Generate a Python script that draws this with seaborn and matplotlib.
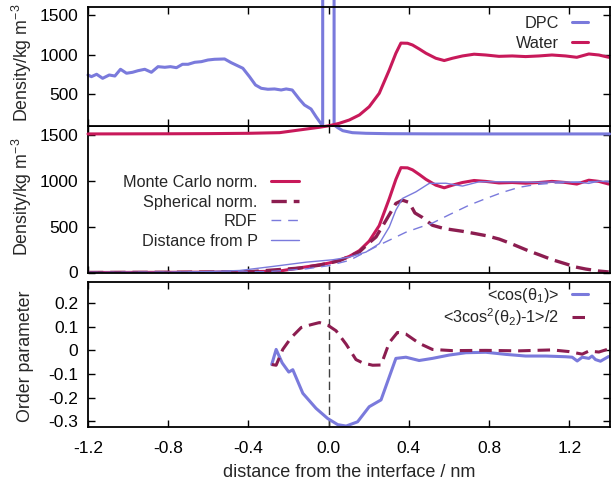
import matplotlib
matplotlib.use("Agg")
import matplotlib.pyplot as plt
import seaborn as sns
import pandas as pd

# ---------------- data ----------------
dpc_x = [-1.200, -1.183, -1.157, -1.127, -1.094, -1.066, -1.038, -1.008, -0.978, -0.951,
         -0.917, -0.884, -0.851, -0.817, -0.789, -0.759, -0.729, -0.701, -0.668, -0.635,
         -0.602, -0.569, -0.519, -0.486, -0.428, -0.395, -0.365, -0.336, -0.303, -0.270,
         -0.237, -0.212, -0.182, -0.146, -0.121, -0.088, -0.063, -0.030, -0.027, 0.024,
         0.027, 0.045, 0.070, 0.118, 0.186, 0.300, 0.500, 0.800, 1.100, 1.400]
dpc_y = [743, 722, 752, 701, 743, 730, 815, 765, 777, 797,
         815, 777, 848, 840, 848, 835, 878, 878, 903, 911,
         932, 941, 945, 898, 828, 722, 617, 575, 563, 567,
         554, 567, 554, 437, 365, 314, 217, 100, 30000, 30000,
         113, 79, 41, 16, 8, 3, 1, 0, 0, 0]

water_x = [-1.2, -1.0, -0.8, -0.6, -0.4, -0.245, -0.146, -0.046, 0.003, 0.053, 0.103, 0.153,
           0.202, 0.252, 0.302, 0.335, 0.360, 0.393, 0.418, 0.452, 0.485, 0.534, 0.576, 0.617,
           0.667, 0.725, 0.783, 0.849, 0.915, 0.982, 1.048, 1.113, 1.181, 1.237, 1.297, 1.347, 1.396]
water_y = [0, 1, 2, 4, 8, 16, 50, 84, 104, 134, 176, 239,
           343, 512, 806, 1017, 1145, 1143, 1121, 1070, 1017, 954, 925, 954,
           983, 1005, 995, 978, 983, 975, 983, 995, 983, 966, 1008, 995, 966]

# Monte Carlo normalisation = same profile as water density
mc_x = water_x
mc_y = water_y

sph_x = [-1.2, -0.8, -0.4, -0.146, -0.046, 0.053, 0.153, 0.202, 0.236, 0.286, 0.335, 0.368,
         0.401, 0.430, 0.468, 0.517, 0.575, 0.667, 0.730, 0.790, 0.850, 0.910, 0.998, 1.048,
         1.114, 1.181, 1.231, 1.281, 1.347, 1.396]
sph_y = [0, 2, 8, 48, 80, 128, 225, 325, 388, 571, 754, 790,
         765, 650, 600, 516, 480, 450, 425, 400, 365, 315, 235, 195,
         140, 95, 60, 38, 16, 6]

rdf_x = [-1.2, -0.6, -0.3, -0.112, 0.0, 0.103, 0.252, 0.385, 0.45, 0.517, 0.6, 0.7,
         0.775, 0.866, 0.949, 1.03, 1.114, 1.2, 1.281, 1.396]
rdf_y = [0, 2, 10, 40, 75, 132, 300, 440, 490, 540, 630, 735,
         800, 875, 930, 960, 975, 985, 991, 997]

dist_x = [-1.2, -0.8, -0.6, -0.444, -0.279, -0.112, 0.020, 0.103, 0.186, 0.252, 0.302, 0.335,
          0.368, 0.435, 0.501, 0.584, 0.667, 0.750, 0.85, 0.95, 1.05, 1.15, 1.25, 1.297, 1.347, 1.396]
dist_y = [0, 3, 10, 22, 66, 113, 139, 168, 223, 315, 497, 681,
          809, 881, 973, 975, 944, 991, 991, 990, 985, 990, 985, 973, 999, 990]

cos1_x = [-0.284, -0.262, -0.232, -0.199, -0.179, -0.129, -0.063, -0.005, 0.045, 0.087,
          0.144, 0.202, 0.261, 0.335, 0.385, 0.451, 0.517, 0.600, 0.684, 0.783,
          0.883, 0.982, 1.082, 1.181, 1.214, 1.239, 1.264, 1.297, 1.313, 1.330, 1.355, 1.396]
cos1_y = [-0.060, 0.004, -0.053, -0.092, -0.082, -0.182, -0.246, -0.289, -0.315, -0.321,
          -0.303, -0.239, -0.210, -0.034, -0.029, -0.043, -0.034, -0.020, -0.010, -0.008,
          -0.017, -0.024, -0.024, -0.027, -0.029, -0.045, -0.029, -0.034, -0.024, -0.039, -0.046, -0.026]

p2_x = [-0.284, -0.262, -0.229, -0.187, -0.137, -0.088, -0.046, -0.005, 0.037, 0.087,
        0.136, 0.169, 0.219, 0.261, 0.302, 0.343, 0.385, 0.451, 0.517, 0.615,
        0.783, 0.949, 1.114, 1.197, 1.264, 1.297, 1.347, 1.396]
p2_y = [-0.060, -0.063, 0.004, 0.054, 0.097, 0.109, 0.118, 0.107, 0.083, 0.026,
        -0.039, -0.053, -0.063, -0.062, 0.033, 0.076, 0.069, 0.030, 0.004, -0.001,
        0.000, -0.002, 0.002, -0.005, -0.016, -0.003, -0.007, 0.006]

x_ticks = [-1.2, -0.8, -0.4, 0.0, 0.4, 0.8, 1.2]
x_tick_labels = ["-1.2", "-0.8", "-0.4", "0.0", "0.4", "0.8", "1.2"]
dens_top_ticks = [500, 1000, 1500]
dens_mid_ticks = [0, 500, 1000, 1500]
op_ticks = [-0.3, -0.2, -0.1, 0.0, 0.1, 0.2]
op_tick_labels = ["-0.3", "-0.2", "-0.1", "0", "0.1", "0.2"]

# ---------------- style ----------------
sns.set_theme(style="ticks")
plt.rcParams["font.family"] = ["Liberation Sans", "DejaVu Sans"]
plt.rcParams["mathtext.fontset"] = "custom"
plt.rcParams["mathtext.rm"] = "Liberation Sans"
plt.rcParams["mathtext.it"] = "Liberation Sans:italic"
plt.rcParams["mathtext.default"] = "regular"
plt.rcParams["axes.unicode_minus"] = False
plt.rcParams["lines.scale_dashes"] = False

BLUE = "#7a7adc"
CRIMSON = "#c8195a"
MAROON = "#8c1d50"
FS_TICK = 12.5
FS_LAB = 12.8
FS_XLAB = 13
FS_LEG = 11.7

W, H = 611, 483
L, R = 88, 609.5
fig = plt.figure(figsize=(W / 100, H / 100), dpi=100)
ax1 = fig.add_axes([L / W, (H - 126) / H, (R - L) / W, 119 / H])
ax2 = fig.add_axes([L / W, (H - 272.5) / H, (R - L) / W, 146.5 / H])
ax3 = fig.add_axes([L / W, (H - 427) / H, (R - L) / W, 145 / H])
ax1.set_zorder(3)


def draw(ax, x, y, color, lw, label, dashes=None, clip=True):
    sns.lineplot(data=pd.DataFrame({"x": x, "y": y}), x="x", y="y", ax=ax,
                 color=color, linewidth=lw, label=label, sort=False, legend=False)
    ln = ax.lines[-1]
    ln.set_label(label)
    if dashes is not None:
        ln.set_dashes(dashes)
    ln.set_clip_on(clip)
    return ln


# top panel
h1 = [draw(ax1, dpc_x, dpc_y, BLUE, 2.2, "DPC", clip=False),
      draw(ax1, water_x, water_y, CRIMSON, 2.2, "Water", clip=False)]
ax1.set_ylim(100, 1600)
ax1.set_yticks(dens_top_ticks)
ax1.set_yticklabels([str(t) for t in dens_top_ticks])

# middle panel
h2 = [draw(ax2, mc_x, mc_y, CRIMSON, 2.2, "Monte Carlo norm."),
      draw(ax2, sph_x, sph_y, MAROON, 2.4, "Spherical norm.", dashes=(11, 5)),
      draw(ax2, rdf_x, rdf_y, BLUE, 1.0, "RDF", dashes=(7, 5)),
      draw(ax2, dist_x, dist_y, BLUE, 1.0, "Distance from P")]
ax2.set_ylim(0, 1600)
ax2.set_yticks(dens_mid_ticks)
ax2.set_yticklabels([str(t) for t in dens_mid_ticks])

# bottom panel
ax3.axvline(0, color="#404040", lw=1.0, dashes=(6, 3))
h3 = [draw(ax3, cos1_x, cos1_y, BLUE, 2.2, r"<cos($\theta_1$)>"),
      draw(ax3, p2_x, p2_y, MAROON, 2.2, r"<3cos$^2$($\theta_2$)-1>/2", dashes=(9, 5))]
ax3.set_ylim(-0.325, 0.29)
ax3.set_yticks(op_ticks)
ax3.set_yticklabels(op_tick_labels)

for ax in (ax1, ax2, ax3):
    ax.set_xlim(-1.2, 1.4)
    ax.set_xticks(x_ticks)
    ax.tick_params(direction="in", top=True, right=True, length=5, width=1,
                   labelsize=FS_TICK, pad=7, colors="black")
    for s in ax.spines.values():
        s.set_linewidth(1.3)
        s.set_color("black")
    ax.set_xlabel("")
    ax.set_ylabel("")

ax1.tick_params(labelbottom=False)
ax2.tick_params(labelbottom=False)
ax3.set_xticklabels(x_tick_labels)
ax3.tick_params(axis="x", pad=10)

ax1.set_ylabel(r"Density/kg m$^{-3}$", fontsize=FS_LAB)
ax2.set_ylabel(r"Density/kg m$^{-3}$", fontsize=FS_LAB)
ax3.set_ylabel("Order parameter", fontsize=FS_LAB)
for ax, yc in ((ax1, 0.53), (ax2, 0.515), (ax3, 0.49)):
    ax.yaxis.set_label_coords(-0.104, yc)
ax3.set_xlabel("distance from the interface / nm", fontsize=FS_XLAB, labelpad=6)

leg_kw = dict(frameon=False, markerfirst=False, fontsize=FS_LEG, borderpad=0,
              borderaxespad=0, handletextpad=0.8, loc="upper right")
ax1.legend(handles=h1, bbox_to_anchor=((588 - L) / (R - L), (126 - 16) / 119),
           handlelength=1.0, labelspacing=0.28, **leg_kw)
ax2.legend(handles=h2, bbox_to_anchor=((299 - L) / (R - L), (272.5 - 175) / 146.5),
           handlelength=1.75, labelspacing=0.28, **leg_kw)
ax3.legend(handles=h3, bbox_to_anchor=((588 - L) / (R - L), (427 - 286) / 145),
           handlelength=1.0, labelspacing=0.08, **leg_kw)

fig.savefig("out.png", dpi=100)
